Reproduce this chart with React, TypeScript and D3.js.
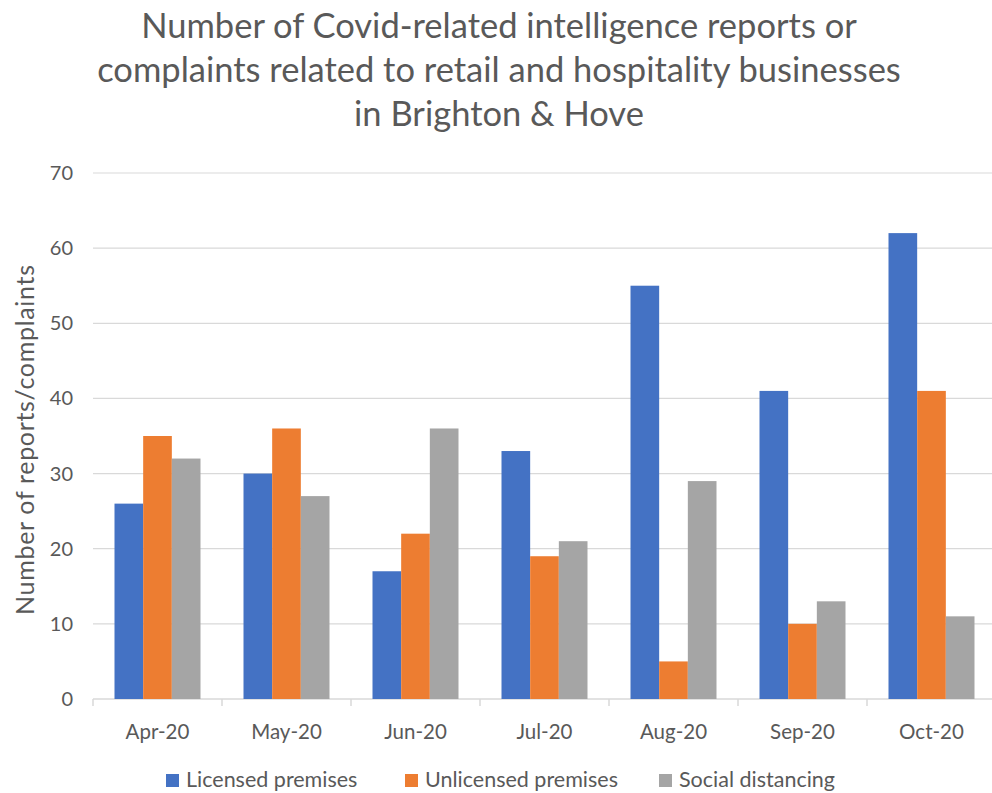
import React from "react";
import * as d3 from "d3";

const months = ["Apr-20", "May-20", "Jun-20", "Jul-20", "Aug-20", "Sep-20", "Oct-20"];
const seriesNames = ["Licensed premises", "Unlicensed premises", "Social distancing"];
const licensed = [26, 30, 17, 33, 55, 41, 62];
const unlicensed = [35, 36, 22, 19, 5, 10, 41];
const distancing = [32, 27, 36, 21, 29, 13, 11];
const yTicks = [0, 10, 20, 30, 40, 50, 60, 70];
const titleLines = [
  "Number of Covid-related intelligence reports or",
  "complaints related to retail and hospitality businesses",
  "in Brighton & Hove",
];

const colors = ["#4472C4", "#ED7D31", "#A5A5A5"];
const textColor = "#595959";
const font = "Lato, 'Open Sans', sans-serif";

export default function App() {
  const width = 992;
  const height = 793;
  const left = 93;
  const right = 996;
  const top = 173;
  const bottom = 699;

  const series = [licensed, unlicensed, distancing];

  // Excel style: gap width 150% -> each category holds 3 bars + 1.5 bar gap
  const x = d3.scaleBand().domain(months).range([left, right]).padding(0);
  const cw = x.bandwidth();
  const barW = cw / 4.5;
  const inner = d3
    .scaleBand()
    .domain(seriesNames)
    .range([barW * 0.75, cw - barW * 0.75])
    .padding(0);
  const y = d3.scaleLinear().domain([0, 70]).range([bottom, top]);

  const boundaries = months.map((m) => x(m)!).concat([right]);

  const legendX = [166, 405, 659];

  return (
    <svg
      width={width}
      height={height}
      style={{ position: "absolute", left: 0, top: 0, background: "#fff" }}
    >
      {titleLines.map((t, i) => (
        <text
          key={t}
          x={499}
          y={38 + i * 44}
          textAnchor="middle"
          fontFamily={font}
          fontSize={34.5}
          fill={textColor}
        >
          {t}
        </text>
      ))}

      {yTicks.map((v) => (
        <g key={v}>
          <line
            x1={left}
            x2={right}
            y1={y(v)}
            y2={y(v)}
            stroke="#D9D9D9"
            strokeWidth={v === 0 ? 1.5 : 1.2}
          />
          <text
            x={73}
            y={y(v)}
            dy="0.35em"
            textAnchor="end"
            fontFamily={font}
            fontSize={20}
            fill={textColor}
          >
            {v}
          </text>
        </g>
      ))}

      {boundaries.map((b, i) => (
        <line key={i} x1={b} x2={b} y1={bottom} y2={bottom + 7} stroke="#D9D9D9" strokeWidth={1.5} />
      ))}

      {months.map((m, i) => (
        <g key={m}>
          {series.map((s, j) => (
            <rect
              key={j}
              x={x(m)! + inner(seriesNames[j])!}
              y={y(s[i])}
              width={barW}
              height={bottom - y(s[i])}
              fill={colors[j]}
            />
          ))}
          <text
            x={x(m)! + cw / 2}
            y={739}
            textAnchor="middle"
            fontFamily={font}
            fontSize={20.5}
            fill={textColor}
          >
            {m}
          </text>
        </g>
      ))}

      <text
        transform={`translate(34, 440) rotate(-90)`}
        textAnchor="middle"
        fontFamily={font}
        fontSize={25}
        textLength={350}
        lengthAdjust="spacing"
        fill={textColor}
      >
        Number of reports/complaints
      </text>

      {seriesNames.map((n, i) => (
        <g key={n}>
          <rect x={legendX[i]} y={774} width={13} height={13} fill={colors[i]} />
          <text
            x={legendX[i] + 20}
            y={787}
            fontFamily={font}
            fontSize={21.5}
            fill={textColor}
          >
            {n}
          </text>
        </g>
      ))}
    </svg>
  );
}
